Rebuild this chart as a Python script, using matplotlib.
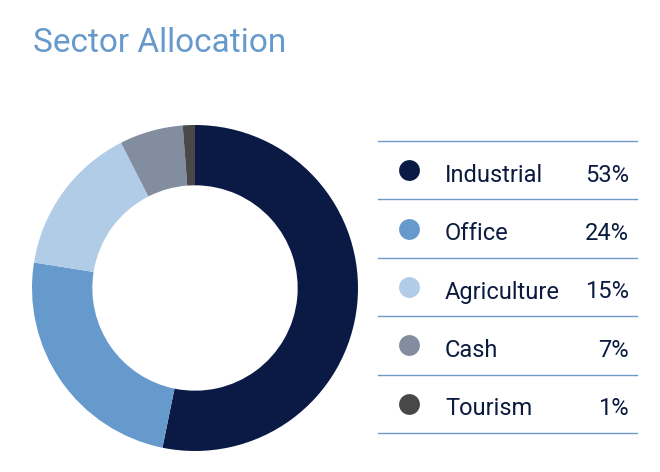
import matplotlib
matplotlib.use("Agg")
from matplotlib import pyplot as plt

# data
sectors = ['Industrial', 'Office', 'Agriculture', 'Cash', 'Tourism']
weights = [53.2, 24.3, 15.0, 6.3, 1.2]          # wedge sizes
pct_labels = ['53%', '24%', '15%', '7%', '1%']  # printed figures in the table
colors = ['#0a1a45', '#6699cc', '#b0cce6', '#828da0', '#484848']

title_color = '#6699cc'
text_color = '#0b1a3f'
line_color = '#6f98cc'

W, H = 660, 472
fig = plt.figure(figsize=(W / 100, H / 100), dpi=100)
plt.rcParams['font.family'] = ['Roboto', 'DejaVu Sans']

# donut
cx, cy, R = 195, 288, 163
ax = fig.add_axes([(cx - R) / W, (H - cy - R) / H, 2 * R / W, 2 * R / H])
ax.pie(weights, colors=colors, startangle=90, counterclock=False,
       wedgeprops=dict(width=0.37, linewidth=0))
ax.set_xlim(-1, 1)
ax.set_ylim(-1, 1)
ax.set_aspect('equal')
ax.axis('off')

# overlay in pixel coords for title + legend table
ov = fig.add_axes([0, 0, 1, 1])
ov.set_xlim(0, W)
ov.set_ylim(H, 0)
ov.axis('off')

ov.text(33, 52, 'Sector Allocation', color=title_color, fontsize=24,
        ha='left', va='baseline')

top, step = 141, 58.4
x0, x1 = 378, 637
for i, (name, lab, c) in enumerate(zip(sectors, pct_labels, colors)):
    y = top + i * step
    ov.plot([x0, x1], [y, y], color=line_color, lw=1)
    yc = y + step / 2
    ov.scatter([409], [yc], s=225, color=c, linewidths=0)
    ov.text(445, yc + 11.5, name, color=text_color, fontsize=17, ha='left', va='baseline')
    ov.text(629, yc + 11.5, lab, color=text_color, fontsize=17, ha='right', va='baseline')
ov.plot([x0, x1], [top + len(sectors) * step] * 2, color=line_color, lw=1)

fig.savefig('out.png', dpi=100)
